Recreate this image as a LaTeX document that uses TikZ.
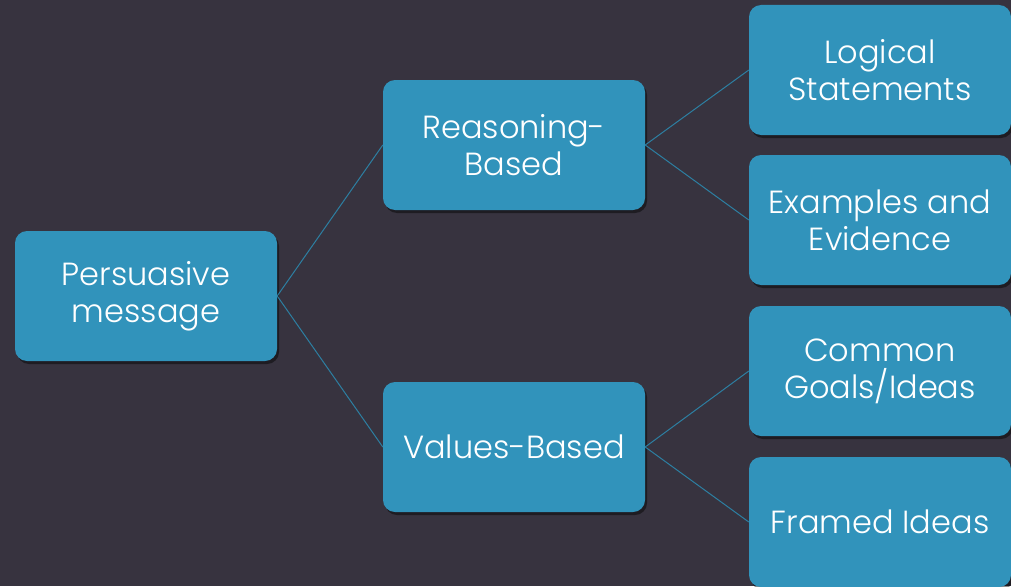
\documentclass[tikz,border=0pt]{standalone}
\usepackage{fontspec}
\setmainfont{Poppins}[UprightFont=* Light]
\usetikzlibrary{shadows}
\definecolor{bgdark}{HTML}{37333F}
\definecolor{boxblue}{HTML}{3193BB}
\definecolor{linkblue}{HTML}{2D7FA2}
\tikzset{
  idea/.style={draw=none, fill=boxblue, rounded corners=12pt,
    minimum width=262pt, minimum height=130pt, inner sep=0pt,
    align=center, text=white,
    font=\fontsize{32}{37}\selectfont,
    drop shadow={shadow xshift=2pt, shadow yshift=-3pt, opacity=0.45, fill=black}},
  link/.style={draw=linkblue, line width=1pt}
}
\begin{document}
\begin{tikzpicture}[x=1pt,y=-1pt]
  \fill[bgdark] (0,0) rectangle (1011,586);
  \useasboundingbox (0,0) rectangle (1011,586);

  \node[idea] (pm)  at (146,296) {Persuasive\\message};
  \node[idea] (rb)  at (514,145) {Reasoning-\\Based};
  \node[idea] (vb)  at (514,447) {Values-Based};
  \node[idea] (ls)  at (880,70)  {Logical\\Statements};
  \node[idea] (ee)  at (880,220) {Examples and\\Evidence};
  \node[idea] (cg)  at (880,371) {Common\\Goals/Ideas};
  \node[idea] (fi)  at (880,522) {Framed Ideas};

  \draw[link] (pm.east) -- (rb.west);
  \draw[link] (pm.east) -- (vb.west);
  \draw[link] (rb.east) -- (ls.west);
  \draw[link] (rb.east) -- (ee.west);
  \draw[link] (vb.east) -- (cg.west);
  \draw[link] (vb.east) -- (fi.west);
\end{tikzpicture}
\end{document}
